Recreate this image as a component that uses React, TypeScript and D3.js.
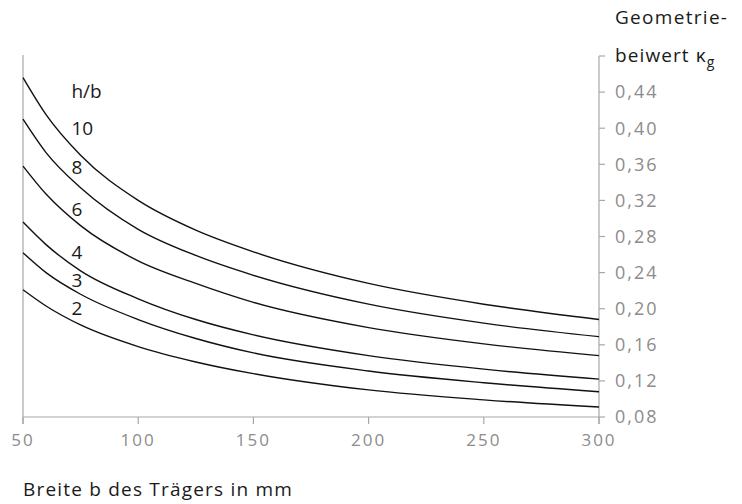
import { useMemo } from "react";
import * as d3 from "d3";

const WIDTH = 742;
const HEIGHT = 504;
const MARGIN = { top: 56, right: 143, bottom: 87, left: 23 };

// Breite b (mm) and Geometriebeiwert per h/b ratio
const breite = [50, 60, 75, 100, 125, 150, 200, 250, 300];
const kg10 = [0.456, 0.415, 0.37, 0.32, 0.287, 0.263, 0.228, 0.205, 0.188];
const kg8 = [0.41, 0.373, 0.334, 0.288, 0.259, 0.237, 0.205, 0.184, 0.169];
const kg6 = [0.358, 0.327, 0.292, 0.253, 0.228, 0.207, 0.179, 0.161, 0.148];
const kg4 = [0.296, 0.271, 0.242, 0.211, 0.188, 0.171, 0.148, 0.133, 0.122];
const kg3 = [0.262, 0.24, 0.216, 0.188, 0.167, 0.151, 0.131, 0.118, 0.108];
const kg2 = [0.221, 0.203, 0.182, 0.158, 0.141, 0.128, 0.11, 0.099, 0.091];

const seriesNames = ["10", "8", "6", "4", "3", "2"];
const seriesValues = [kg10, kg8, kg6, kg4, kg3, kg2];
// label anchors (b, value) for the h/b labels
const labelB = 71;
const labelV = [0.4002, 0.357, 0.3105, 0.2628, 0.2312, 0.2];
const headerV = 0.4412;

const xTicks = [50, 100, 150, 200, 250, 300];
const yTicks = [0.08, 0.12, 0.16, 0.2, 0.24, 0.28, 0.32, 0.36, 0.4, 0.44];

const FONT = "'Open Sans', sans-serif";
const GREY = "#8c8c8c";
const AXIS = "#a8a8a8";
const INK = "#1a1a1a";

export default function App() {
  const boundsWidth = WIDTH - MARGIN.left - MARGIN.right;
  const boundsHeight = HEIGHT - MARGIN.top - MARGIN.bottom;

  const xScale = useMemo(
    () => d3.scaleLinear().domain([50, 300]).range([0, boundsWidth]),
    [boundsWidth]
  );
  const yScale = useMemo(
    () => d3.scaleLinear().domain([0.08, 0.48]).range([boundsHeight, 0]),
    [boundsHeight]
  );

  const line = d3
    .line<[number, number]>()
    .x((d) => xScale(d[0]))
    .y((d) => yScale(d[1]))
    .curve(d3.curveMonotoneX);

  const fmt = (v: number) => v.toFixed(2).replace(".", ",");

  return (
    <svg
      width={WIDTH}
      height={HEIGHT}
      style={{ position: "absolute", left: 0, top: 0, background: "white" }}
      fontFamily={FONT}
    >
      <text x={615} y={24} fontSize={19} fill={INK} letterSpacing={1.3}>
        Geometrie-
      </text>
      <text x={615} y={62} fontSize={19} fill={INK} letterSpacing={1.1}>
        beiwert κ<tspan dy={5} fontSize={14}>g</tspan>
      </text>

      <g transform={`translate(${MARGIN.left},${MARGIN.top})`}>
        {/* left axis line */}
        <line x1={0} x2={0} y1={-1} y2={boundsHeight + 7} stroke={AXIS} strokeWidth={1.2} />
        {/* bottom axis */}
        <line x1={0} x2={boundsWidth} y1={boundsHeight} y2={boundsHeight} stroke={AXIS} strokeWidth={1.2} />
        {xTicks.map((t) => (
          <g key={t} transform={`translate(${xScale(t)},${boundsHeight})`}>
            <line y1={0} y2={7} stroke={AXIS} strokeWidth={1.2} />
            <text y={23} dy="0.35em" textAnchor="middle" fontSize={17} fill={GREY} letterSpacing={2}>
              {t}
            </text>
          </g>
        ))}

        {/* right axis */}
        <line x1={boundsWidth} x2={boundsWidth} y1={0} y2={boundsHeight + 7} stroke={AXIS} strokeWidth={1.2} />
        <line x1={boundsWidth} x2={boundsWidth + 6} y1={0} y2={0} stroke={AXIS} strokeWidth={1.2} />
        {yTicks.map((t) => (
          <g key={t} transform={`translate(${boundsWidth},${yScale(t)})`}>
            <line x1={0} x2={6} stroke={AXIS} strokeWidth={1.2} />
            <text x={16} dy="0.35em" fontSize={18} fill={GREY} letterSpacing={2}>
              {fmt(t)}
            </text>
          </g>
        ))}

        {/* curves */}
        {seriesValues.map((vals, i) => (
          <path
            key={seriesNames[i]}
            d={line(breite.map((b, j) => [b, vals[j]] as [number, number])) ?? ""}
            fill="none"
            stroke="#111"
            strokeWidth={1.4}
          />
        ))}

        <text x={xScale(labelB)} y={yScale(headerV)} dy="0.35em" fontSize={19} fill={INK}>
          h/b
        </text>
        {seriesNames.map((n, i) => (
          <text
            key={n}
            x={xScale(labelB)}
            y={yScale(labelV[i])}
            dy="0.35em"
            fontSize={19}
            fill={INK}
          >
            {n}
          </text>
        ))}
      </g>

      <text x={23} y={496} fontSize={19} fill={INK} letterSpacing={1.2}>
        Breite b des Trägers in mm
      </text>
    </svg>
  );
}
